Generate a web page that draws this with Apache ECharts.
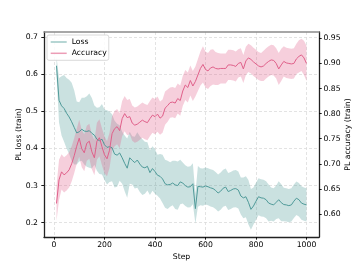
<!DOCTYPE html>
<html><head><meta charset="utf-8">
<script src="https://cdn.jsdelivr.net/npm/echarts@6/dist/echarts.min.js"></script>
<style>html,body{margin:0;padding:0;background:#fff}#c{width:354px;height:266px}</style>
</head><body><div id="c"></div>
<script>
// ---- data ----
const steps = [10,20,30,40,50,60,70,80,90,100,110,120,130,140,150,160,170,180,190,200,
210,220,230,240,250,260,270,280,290,300,310,320,330,340,350,360,370,380,390,400,
410,420,430,440,450,460,470,480,490,500,510,520,530,540,550,560,570,580,590,600,
610,620,630,640,650,660,670,680,690,700,710,720,730,740,750,760,770,780,790,800,
810,820,830,840,850,860,870,880,890,900,910,920,930,940,950,960,970,980,990,1000];

const lossMean = [0.623,0.530,0.515,0.508,0.495,0.485,0.472,0.457,0.442,0.445,
0.452,0.447,0.446,0.448,0.441,0.436,0.425,0.421,0.425,0.410,
0.403,0.405,0.402,0.385,0.382,0.388,0.375,0.360,0.347,0.375,
0.368,0.362,0.369,0.358,0.350,0.348,0.352,0.335,0.346,0.338,
0.328,0.325,0.318,0.305,0.302,0.303,0.307,0.302,0.300,0.310,
0.307,0.300,0.296,0.297,0.305,0.238,0.298,0.297,0.296,0.299,
0.297,0.294,0.292,0.287,0.280,0.285,0.293,0.296,0.284,0.287,
0.291,0.292,0.288,0.272,0.267,0.270,0.255,0.236,0.245,0.258,
0.270,0.267,0.266,0.262,0.253,0.250,0.248,0.255,0.262,0.254,
0.249,0.248,0.246,0.248,0.258,0.266,0.262,0.253,0.250,0.248];

const lossStd = [0.025,0.060,0.080,0.090,0.095,0.100,0.105,0.100,0.085,0.080,
0.085,0.090,0.095,0.100,0.095,0.080,0.085,0.090,0.095,0.095,
0.100,0.095,0.090,0.090,0.085,0.075,0.070,0.075,0.080,0.070,
0.065,0.070,0.075,0.075,0.075,0.070,0.065,0.060,0.060,0.060,
0.055,0.060,0.065,0.065,0.065,0.060,0.060,0.065,0.065,0.060,
0.055,0.055,0.055,0.055,0.055,0.040,0.055,0.050,0.050,0.050,
0.050,0.050,0.050,0.050,0.050,0.050,0.050,0.050,0.050,0.050,
0.050,0.050,0.050,0.050,0.055,0.055,0.060,0.055,0.050,0.050,
0.050,0.050,0.050,0.050,0.050,0.045,0.045,0.045,0.050,0.050,
0.045,0.045,0.045,0.045,0.045,0.045,0.045,0.045,0.045,0.045];

const accMean = [0.621,0.668,0.684,0.678,0.682,0.688,0.700,0.716,0.735,0.751,
0.730,0.722,0.741,0.745,0.724,0.712,0.745,0.752,0.734,0.718,
0.710,0.727,0.760,0.770,0.774,0.766,0.790,0.800,0.792,0.794,
0.781,0.777,0.779,0.783,0.787,0.784,0.782,0.790,0.797,0.794,
0.799,0.791,0.795,0.811,0.816,0.822,0.823,0.821,0.830,0.826,
0.845,0.857,0.852,0.866,0.855,0.864,0.877,0.890,0.898,0.888,
0.885,0.891,0.893,0.890,0.889,0.890,0.890,0.890,0.897,0.897,
0.896,0.894,0.900,0.902,0.889,0.905,0.911,0.908,0.903,0.899,
0.895,0.893,0.895,0.900,0.904,0.907,0.906,0.900,0.889,0.897,
0.904,0.901,0.900,0.899,0.900,0.909,0.914,0.917,0.911,0.900];

const accStd = [0.035,0.040,0.035,0.035,0.035,0.035,0.035,0.035,0.035,0.037,
0.037,0.037,0.035,0.035,0.035,0.035,0.037,0.037,0.037,0.037,
0.035,0.035,0.035,0.035,0.035,0.035,0.035,0.035,0.035,0.035,
0.035,0.035,0.035,0.035,0.035,0.035,0.035,0.035,0.035,0.035,
0.035,0.033,0.033,0.033,0.032,0.030,0.030,0.030,0.030,0.030,
0.030,0.030,0.030,0.030,0.030,0.030,0.032,0.034,0.036,0.036,
0.036,0.036,0.035,0.033,0.032,0.030,0.030,0.030,0.030,0.030,
0.030,0.030,0.028,0.028,0.028,0.028,0.028,0.028,0.028,0.028,
0.028,0.028,0.030,0.030,0.030,0.030,0.030,0.030,0.032,0.032,
0.030,0.030,0.030,0.030,0.030,0.030,0.032,0.032,0.034,0.035];

const xTicks = [0,200,400,600,800,1000];
const lossTicks = [0.2,0.3,0.4,0.5,0.6,0.7];
const accTicks = [0.60,0.65,0.70,0.75,0.80,0.85,0.90,0.95];

// ---- chart ----
const FONT = 'DejaVu Sans';
const FS = 7.7;
const TEAL = '#4f9a99', PINK = '#e0608a';
const TEAL_BAND = 'rgba(79,154,153,0.30)', PINK_BAND = 'rgba(224,96,138,0.30)';

const pair = (xs, ys) => xs.map((x, i) => [x, ys[i]]);
const bandRows = (mean, sd) => steps.map((x, i) => [x, mean[i] - sd[i], mean[i] + sd[i]]);

// band polygon drawn through the axis scales (api.coord)
function bandSeries(rows, yIdx, color) {
  return {
    type: 'custom', xAxisIndex: 0, yAxisIndex: yIdx, data: rows, clip: true, silent: true,
    encode: {x: 0, y: [1, 2]},
    renderItem: function (params, api) {
      if (params.dataIndex !== 0) return null;
      const up = rows.map(r => api.coord([r[0], r[2]]));
      const lo = rows.map(r => api.coord([r[0], r[1]])).reverse();
      return {type: 'polygon', shape: {points: up.concat(lo)},
              style: {fill: color, stroke: null}};
    }
  };
}

const chart = echarts.init(document.getElementById('c'), null, {renderer: 'canvas'});
const tickStyle = {show: true, length: 2.7, lineStyle: {color: '#000', width: 0.9}};
const lbl = (fmt, vals, margin) => ({
  show: true, customValues: vals, formatter: fmt, margin: margin,
  fontFamily: FONT, fontSize: FS, color: '#000'
});
const grid = {color: '#dcdcdc', width: 0.8, type: [3, 2]};
const nameStyle = {fontFamily: FONT, fontSize: FS, color: '#000'};
const spine = {show: true, onZero: false, lineStyle: {color: '#222', width: 1.3}};

chart.setOption({
  animation: false,
  backgroundColor: '#fff',
  grid: {left: 44, right: 35, top: 32, bottom: 29, containLabel: false, outerBoundsMode: 'none'},
  textStyle: {fontFamily: FONT},
  legend: {
    left: 47, top: 35, orient: 'vertical',
    icon: 'rect', itemWidth: 16, itemHeight: 1.5, itemGap: 2.3, itemTextGap: 6,
    padding: [2.5, 2, 2.5, 3.7],
    backgroundColor: 'rgba(255,255,255,0.85)', borderColor: '#d0d0d0', borderWidth: 0.8, borderRadius: 2,
    textStyle: {fontFamily: FONT, fontSize: FS, color: '#000', lineHeight: 9},
    data: [
      {name: 'Loss', itemStyle: {color: '#9ec8c6'}},
      {name: 'Accuracy', itemStyle: {color: '#ec9db6'}}
    ]
  },
  xAxis: [{
    type: 'value', min: -39.5, max: 1049.5, position: 'bottom',
    name: 'Step', nameLocation: 'middle', nameGap: 16.5, nameMoveOverlap: false,
    nameTextStyle: nameStyle,
    axisLine: spine,
    axisTick: Object.assign({customValues: xTicks}, tickStyle),
    axisLabel: lbl(v => String(Math.round(v)), xTicks, 4),
    splitLine: {show: true, lineStyle: grid}
  }, {
    type: 'value', min: -39.5, max: 1049.5, position: 'top',
    axisLine: {show: true, onZero: false, lineStyle: {color: '#8a8a8a', width: 1.5}},
    axisTick: {show: false}, axisLabel: {show: false}, splitLine: {show: false}
  }],
  yAxis: [{
    type: 'value', min: 0.1615, max: 0.714, position: 'left',
    name: 'PL loss (train)', nameLocation: 'middle', nameGap: 21, nameRotate: 90, nameMoveOverlap: false,
    nameTextStyle: nameStyle,
    axisLine: spine,
    axisTick: Object.assign({customValues: lossTicks}, tickStyle),
    axisLabel: lbl(v => v.toFixed(1), lossTicks, 6),
    splitLine: {show: true, lineStyle: grid}
  }, {
    type: 'value', min: 0.5542, max: 0.9626, position: 'right',
    name: 'PL accuracy (train)', nameLocation: 'middle', nameGap: 25, nameRotate: 90, nameMoveOverlap: false,
    nameTextStyle: nameStyle,
    axisLine: spine,
    axisTick: Object.assign({customValues: accTicks}, tickStyle),
    axisLabel: lbl(v => v.toFixed(2), accTicks, 4.5),
    splitLine: {show: false}
  }],
  series: [
    bandSeries(bandRows(lossMean, lossStd), 0, TEAL_BAND),
    {name: 'Loss', type: 'line', yAxisIndex: 0, data: pair(steps, lossMean),
     symbol: 'none', lineStyle: {color: TEAL, width: 1}, itemStyle: {color: TEAL}},
    bandSeries(bandRows(accMean, accStd), 1, PINK_BAND),
    {name: 'Accuracy', type: 'line', yAxisIndex: 1, data: pair(steps, accMean),
     symbol: 'none', lineStyle: {color: PINK, width: 1}, itemStyle: {color: PINK}}
  ]
});
</script></body></html>
